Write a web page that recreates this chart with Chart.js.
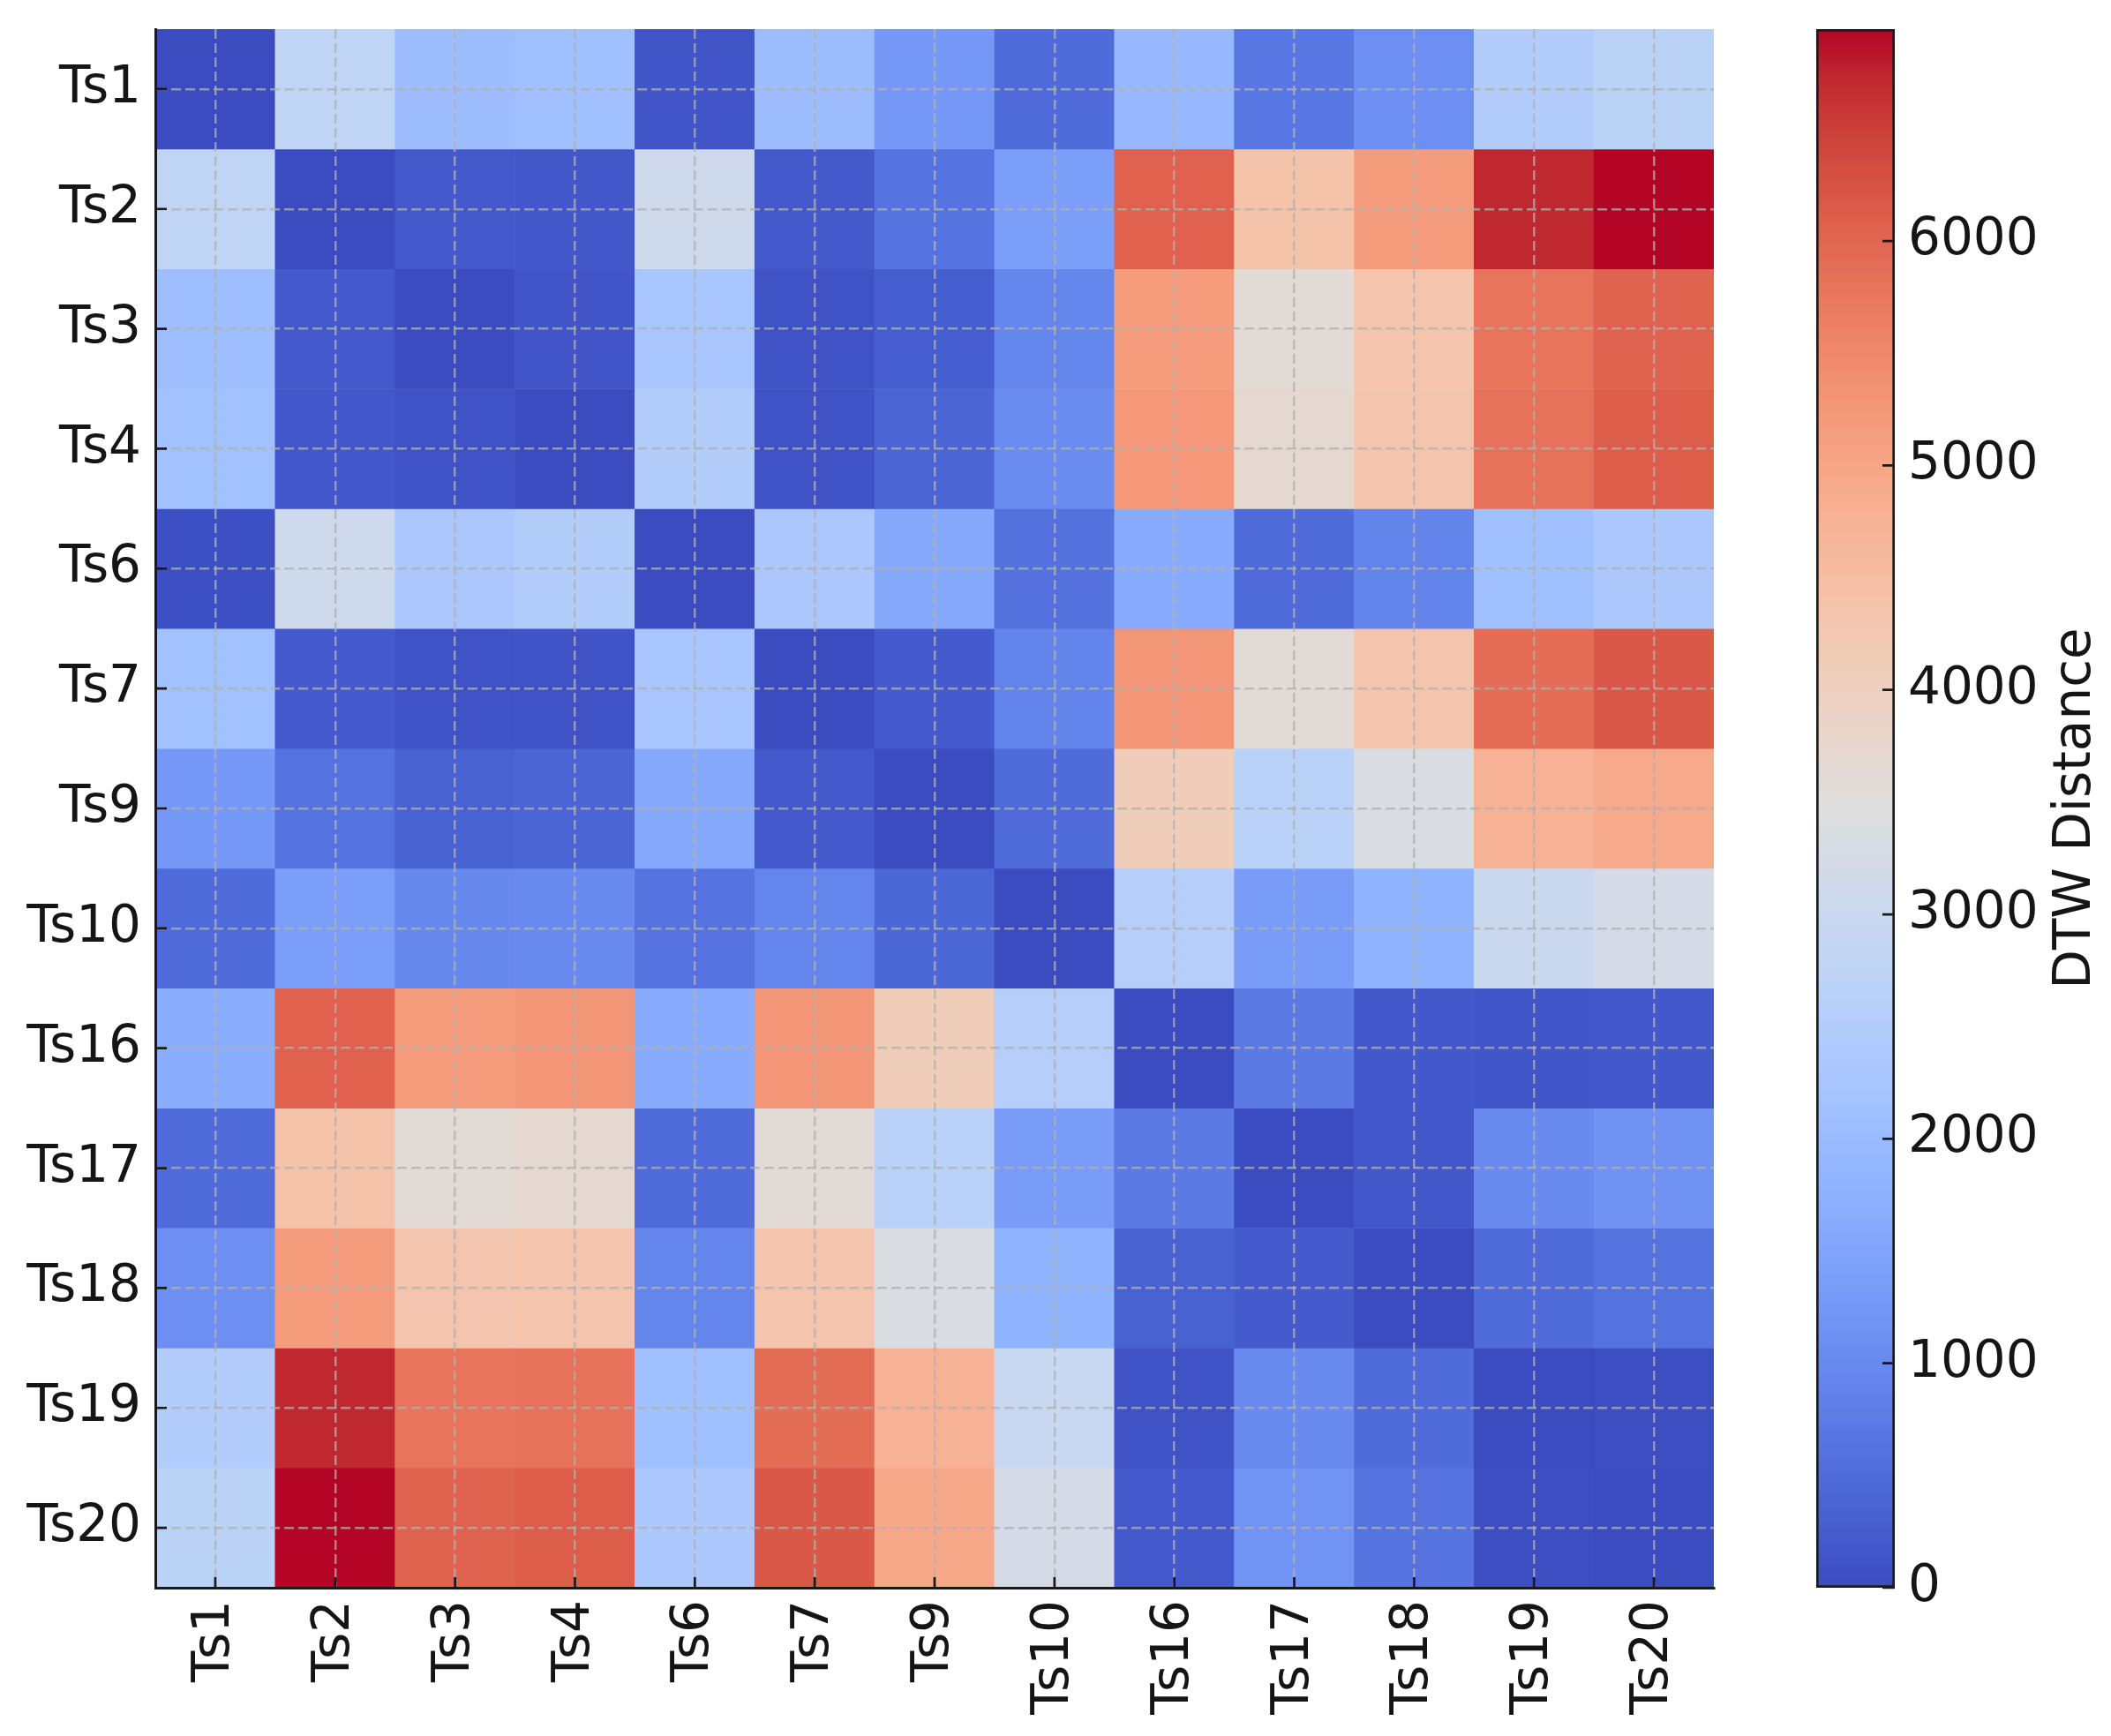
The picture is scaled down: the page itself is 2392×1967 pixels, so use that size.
<!DOCTYPE html>
<html>
<head>
<meta charset="utf-8">
<script src="https://cdn.jsdelivr.net/npm/chart.js@4.4.1/dist/chart.umd.min.js"></script>
<style>
  html, body { margin: 0; padding: 0; background: #ffffff; }
  #wrap { position: relative; width: 2392px; height: 1967px; overflow: hidden; }
  #heat { position: absolute; left: 0; top: 0; }
  #cbar { position: absolute; left: 1960px; top: 0; }
</style>
</head>
<body>
<div id="wrap">
  <canvas id="heat" width="1960" height="1967"></canvas>
  <canvas id="cbar" width="432" height="1967"></canvas>
</div>
<script>
// ---------------- data ----------------
const colLabels = ['Ts1','Ts2','Ts3','Ts4','Ts6','Ts7','Ts9','Ts10','Ts16','Ts17','Ts18','Ts19','Ts20'];
const rowLabels = ['Ts1','Ts2','Ts3','Ts4','Ts6','Ts7','Ts9','Ts10','Ts16','Ts17','Ts18','Ts19','Ts20'];

const ts1  = [0, 2780, 2050, 2120, 140, 2050, 1285, 490, 1945, 695, 1110, 2465, 2670];
const ts2  = [2780, 0, 210, 175, 3090, 205, 640, 1390, 6060, 4370, 5170, 6730, 6944];
const ts3  = [2080, 210, 0, 140, 2290, 105, 270, 940, 5170, 3610, 4340, 5800, 6040];
const ts4  = [2150, 175, 105, 0, 2500, 105, 385, 1040, 5240, 3680, 4340, 5830, 6110];
const ts6  = [60, 3090, 2330, 2500, 0, 2330, 1600, 590, 1630, 490, 900, 2120, 2360];
const ts7  = [2150, 240, 105, 105, 2290, 0, 240, 900, 5280, 3610, 4340, 5900, 6180];
const ts9  = [1285, 640, 340, 385, 1600, 205, 0, 490, 4100, 2640, 3370, 4760, 4930];
const ts10 = [490, 1390, 970, 1010, 625, 920, 420, 0, 2570, 1350, 1800, 2990, 3260];
const ts16 = [1670, 6060, 5170, 5280, 1630, 5280, 4100, 2570, 0, 730, 200, 155, 200];
const ts17 = [490, 4370, 3610, 3680, 490, 3610, 2640, 1350, 730, 0, 175, 1010, 1150];
const ts18 = [1110, 5170, 4300, 4340, 920, 4340, 3370, 1800, 345, 240, 0, 490, 610];
const ts19 = [2465, 6730, 5800, 5830, 2120, 5900, 4760, 2960, 105, 1020, 490, 0, 30];
const ts20 = [2670, 6944, 6040, 6110, 2360, 6180, 4960, 3260, 220, 1180, 620, 30, 0];

const dtwRows = [ts1, ts2, ts3, ts4, ts6, ts7, ts9, ts10, ts16, ts17, ts18, ts19, ts20];
const cbTickValues = [0, 1000, 2000, 3000, 4000, 5000, 6000];
const cbTitle = 'DTW Distance';

// ---------------- colormap (coolwarm) ----------------
const coolwarmStops = [
  [59,76,192],[68,90,204],[77,104,215],[87,117,225],[98,130,234],[108,142,241],[119,154,247],
  [130,165,251],[141,176,254],[152,185,255],[163,194,255],[174,201,253],[184,208,249],[194,213,244],
  [204,217,238],[213,219,230],[221,221,221],[229,216,209],[236,211,197],[241,204,184],[245,196,172],
  [247,187,160],[247,177,148],[247,166,135],[244,154,123],[241,141,111],[236,127,99],[229,112,88],
  [222,96,77],[213,80,66],[203,62,56],[192,40,47],[180,4,38]
];
function coolwarm(t) {
  t = Math.max(0, Math.min(1, t));
  const n = coolwarmStops.length - 1;
  const p = t * n;
  const i = Math.min(Math.floor(p), n - 1);
  const f = p - i;
  const a = coolwarmStops[i], b = coolwarmStops[i + 1];
  const c = a.map((v, k) => Math.round(v + (b[k] - v) * f));
  return 'rgb(' + c.join(',') + ')';
}

const vmin = 0;
const vmax = Math.max(...dtwRows.flat());

const FONT = { family: "'DejaVu Sans', 'Liberation Sans', sans-serif", size: 58 };
const TEXT = '#151515';
const SPINE = '#1a1a1a';
const GRID = 'rgba(176,176,176,0.75)';

function zeroPad(scale) {
  scale.paddingTop = 0;
  scale.paddingBottom = 0;
  scale.paddingLeft = 0;
  scale.paddingRight = 0;
}

// ---------------- heatmap ----------------
const heatDatasets = dtwRows.map((row, r) => ({
  label: rowLabels[r],
  data: colLabels.map(() => 1),
  backgroundColor: row.map(v => coolwarm((v - vmin) / (vmax - vmin))),
  borderWidth: 0,
  barPercentage: 1,
  categoryPercentage: 1,
  stack: 'cells'
}));

const inwardTicks = {
  id: 'inwardTicks',
  afterDraw(chart) {
    const { ctx, chartArea, scales } = chart;
    ctx.save();
    ctx.strokeStyle = SPINE;
    ctx.lineWidth = 2.7;
    ctx.beginPath();
    scales.x.ticks.forEach((t, i) => {
      const px = scales.x.getPixelForTick(i);
      ctx.moveTo(px, chartArea.bottom);
      ctx.lineTo(px, chartArea.bottom - 12);
    });
    scales.y.ticks.forEach((t, i) => {
      const py = scales.y.getPixelForTick(i);
      ctx.moveTo(chartArea.left, py);
      ctx.lineTo(chartArea.left + 13, py);
    });
    ctx.stroke();
    ctx.restore();
  }
};

new Chart(document.getElementById('heat'), {
  type: 'bar',
  data: { labels: colLabels, datasets: heatDatasets },
  options: {
    responsive: false,
    animation: false,
    layout: { padding: { top: 33, right: 18, left: 0, bottom: 0 } },
    plugins: { legend: { display: false }, tooltip: { enabled: false } },
    scales: {
      x: {
        type: 'category',
        stacked: true,
        offset: true,
        grid: { z: 1, offset: false, drawTicks: false, color: GRID, lineWidth: 2.5, borderDash: [11, 5] },
        border: { z: 2, display: true, color: SPINE, width: 3, dash: [11, 5] },
        ticks: { z: 2, autoSkip: false, maxRotation: 90, minRotation: 90, padding: 14, color: TEXT, font: FONT },
        afterFit(scale) { scale.height = 168; zeroPad(scale); }
      },
      y: {
        type: 'linear',
        stacked: true,
        min: 0,
        max: rowLabels.length,
        reverse: true,
        grid: { z: 1, drawTicks: false, color: GRID, lineWidth: 2.5, borderDash: [11, 5] },
        border: { z: 2, display: true, color: SPINE, width: 3, dash: [11, 5] },
        afterBuildTicks(scale) {
          scale.ticks = rowLabels.map((_, i) => ({ value: i + 0.5 }));
        },
        ticks: {
          z: 2,
          autoSkip: false,
          padding: 16,
          color: TEXT,
          font: FONT,
          callback: (v, i) => rowLabels[i]
        },
        afterFit(scale) { scale.width = 176; zeroPad(scale); }
      }
    }
  },
  plugins: [inwardTicks]
});

// ---------------- colorbar ----------------
const cbPlugin = {
  id: 'cbDecor',
  afterDraw(chart) {
    const { ctx, chartArea, scales } = chart;
    ctx.save();
    ctx.strokeStyle = SPINE;
    ctx.lineWidth = 2.7;
    ctx.beginPath();
    scales.y.ticks.forEach((t, i) => {
      const py = scales.y.getPixelForTick(i);
      ctx.moveTo(chartArea.right, py);
      ctx.lineTo(chartArea.right - 14, py);
    });
    ctx.stroke();
    ctx.fillStyle = TEXT;
    ctx.font = FONT.size + 'px ' + FONT.family;
    ctx.textAlign = 'center';
    ctx.textBaseline = 'alphabetic';
    ctx.translate(408, (chartArea.top + chartArea.bottom) / 2);
    ctx.rotate(-Math.PI / 2);
    ctx.fillText(cbTitle, 0, 0);
    ctx.restore();
  }
};

new Chart(document.getElementById('cbar'), {
  type: 'bar',
  data: {
    labels: [''],
    datasets: [{
      data: [vmax],
      barPercentage: 1,
      categoryPercentage: 1,
      borderWidth: 3,
      borderColor: SPINE,
      borderSkipped: false,
      backgroundColor(context) {
        const { chart } = context;
        const area = chart.chartArea;
        if (!area) return coolwarm(0.5);
        const g = chart.ctx.createLinearGradient(0, area.bottom, 0, area.top);
        const n = coolwarmStops.length - 1;
        coolwarmStops.forEach((s, i) => g.addColorStop(i / n, 'rgb(' + s.join(',') + ')'));
        return g;
      }
    }]
  },
  options: {
    responsive: false,
    animation: false,
    layout: { padding: { top: 33, right: 0, left: 98, bottom: 168 } },
    plugins: { legend: { display: false }, tooltip: { enabled: false } },
    scales: {
      x: { display: false },
      y: {
        position: 'right',
        min: vmin,
        max: vmax,
        grid: { display: false, drawTicks: false },
        border: { display: false },
        afterBuildTicks(scale) {
          scale.ticks = cbTickValues.map(v => ({ value: v }));
        },
        ticks: { padding: 15, color: TEXT, font: FONT, callback: v => String(v) },
        afterFit(scale) { scale.width = 245; zeroPad(scale); }
      }
    }
  },
  plugins: [cbPlugin]
});
</script>
</body>
</html>
